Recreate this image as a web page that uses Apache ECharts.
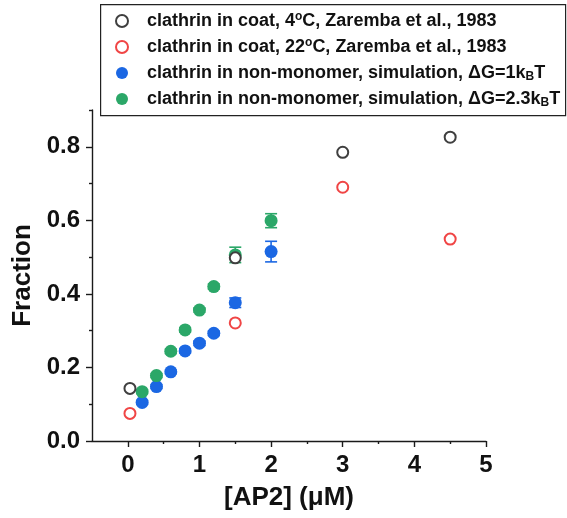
<!DOCTYPE html>
<html>
<head>
<meta charset="utf-8">
<script src="https://cdn.jsdelivr.net/npm/echarts@6/dist/echarts.min.js"></script>
<style>
  html, body { margin: 0; padding: 0; background: #fff; }
  #chart { width: 567px; height: 518px; }
</style>
</head>
<body>
<div id="chart"></div>
<script>
// Experimental coat fractions (Zaremba et al., 1983)
const coat4C_x = [0.03, 1.5, 3.0, 4.5];
const coat4C_y = [0.143, 0.498, 0.785, 0.826];
const coat22C_x = [0.03, 1.5, 3.0, 4.5];
const coat22C_y = [0.075, 0.321, 0.690, 0.549];

// Simulated non-monomer fractions
const simAP2 = [0.2, 0.4, 0.6, 0.8, 1.0, 1.2, 1.5, 2.0];
const sim1kT = [0.105, 0.148, 0.188, 0.245, 0.266, 0.293, 0.376, 0.515];
const sim1kT_err = [0.005, 0.005, 0.005, 0.006, 0.006, 0.006, 0.013, 0.028];
const sim23kT = [0.134, 0.178, 0.244, 0.302, 0.356, 0.420, 0.506, 0.599];
const sim23kT_err = [0.005, 0.005, 0.006, 0.006, 0.006, 0.007, 0.021, 0.019];

// Axis ticks
const xMajorTicks = [0, 1, 2, 3, 4, 5];
const xMinorTicks = [0.5, 1.5, 2.5, 3.5, 4.5];
const yMajorTicks = [0, 0.2, 0.4, 0.6, 0.8];
const yMinorTicks = [0.1, 0.3, 0.5, 0.7, 0.9];

const FONT = '"Liberation Sans", Arial, sans-serif';
const AXIS_COLOR = '#1a1a1a';
const BLUE = '#1b67e3';
const GREEN = '#2ba768';
const RED = '#f04545';
const GREY = '#3f3f3f';

const names = ['coat4C', 'coat22C', 'sim1kT', 'sim23kT'];
const legendText = {
  coat4C: '{f|clathrin in coat, 4}{sup|o}{t|C, Zaremba et al., 1983}',
  coat22C: '{f|clathrin in coat, 22}{sup|o}{t|C, Zaremba et al., 1983}',
  sim1kT: '{f|clathrin in non-monomer, simulation, \u0394G=1k}{sub|B}{t|T}',
  sim23kT: '{f|clathrin in non-monomer, simulation, \u0394G=2.3k}{sub|B}{t|T}'
};

function zip(xs, ys) { return xs.map((x, i) => [x, ys[i]]); }
function zipErr(xs, ys, es) { return xs.map((x, i) => [x, ys[i] - es[i], ys[i] + es[i]]); }

function errorBars(color) {
  return function (params, api) {
    const x = api.value(0);
    const lo = api.coord([x, api.value(1)]);
    const hi = api.coord([x, api.value(2)]);
    const half = 6;
    const style = { stroke: color, lineWidth: 1.6 };
    return {
      type: 'group',
      children: [
        { type: 'line', shape: { x1: lo[0], y1: lo[1], x2: hi[0], y2: hi[1] }, style },
        { type: 'line', shape: { x1: lo[0] - half, y1: lo[1], x2: lo[0] + half, y2: lo[1] }, style },
        { type: 'line', shape: { x1: hi[0] - half, y1: hi[1], x2: hi[0] + half, y2: hi[1] }, style }
      ]
    };
  };
}

const tickStyle = { color: AXIS_COLOR, width: 1.4 };
const labelFont = { fontFamily: FONT, fontWeight: 'bold', fontSize: 24, color: '#111' };
const titleFont = { fontFamily: FONT, fontWeight: 'bold', fontSize: 26, color: '#111' };

const chart = echarts.init(document.getElementById('chart'), null, { renderer: 'canvas' });
chart.setOption({
  animation: false,
  backgroundColor: '#fff',
  grid: { left: 92, right: 81, top: 110, bottom: 77 },
  xAxis: [
    {
      type: 'value', min: -0.5, max: 5, interval: 0.5,
      name: '[AP2] (\u03bcM)', nameLocation: 'middle', nameGap: 44,
      nameTextStyle: titleFont,
      axisLine: { show: true, onZero: false, lineStyle: tickStyle },
      splitLine: { show: false },
      axisTick: { show: true, length: 6, customValues: xMajorTicks, lineStyle: tickStyle },
      axisLabel: Object.assign({ customValues: xMajorTicks, margin: 12, formatter: v => String(Math.round(v)) }, labelFont)
    },
    {
      type: 'value', min: -0.5, max: 5, interval: 0.5, position: 'bottom',
      axisLine: { show: false, onZero: false },
      splitLine: { show: false },
      axisTick: { show: true, length: 3, customValues: xMinorTicks, lineStyle: tickStyle },
      axisLabel: { show: false }
    }
  ],
  yAxis: [
    {
      type: 'value', min: 0, max: 0.9, interval: 0.1,
      name: 'Fraction', nameLocation: 'middle', nameGap: 56,
      nameTextStyle: titleFont,
      axisLine: { show: true, onZero: false, lineStyle: tickStyle },
      splitLine: { show: false },
      axisTick: { show: true, length: 6, customValues: yMajorTicks, lineStyle: tickStyle },
      axisLabel: Object.assign({ customValues: yMajorTicks, margin: 12, formatter: v => v.toFixed(1) }, labelFont)
    },
    {
      type: 'value', min: 0, max: 0.9, interval: 0.1, position: 'left',
      axisLine: { show: false, onZero: false },
      splitLine: { show: false },
      axisTick: { show: true, length: 3, customValues: yMinorTicks, lineStyle: tickStyle },
      axisLabel: { show: false }
    }
  ],
  graphic: [{
    type: 'rect', left: 100, top: 4, z: 90,
    shape: { width: 465, height: 111 },
    style: { fill: '#fff', stroke: '#222', lineWidth: 1.2 }
  }],
  legend: {
    z: 100,
    orient: 'vertical', left: 110, top: 6, itemGap: 6,
    itemWidth: 28, itemHeight: 12,
    data: names,
    formatter: n => legendText[n],
    textStyle: {
      fontFamily: FONT, fontWeight: 'bold', fontSize: 18, color: '#111',
      rich: {
        f: { fontFamily: FONT, fontWeight: 'bold', fontSize: 18, color: '#111', lineHeight: 20, padding: [0, 0, 0, 6] },
        t: { fontFamily: FONT, fontWeight: 'bold', fontSize: 18, color: '#111', lineHeight: 20 },
        sup: { fontFamily: FONT, fontWeight: 'bold', fontSize: 12, color: '#111', verticalAlign: 'top', lineHeight: 12, padding: [0, 0, 8, 0] },
        sub: { fontFamily: FONT, fontWeight: 'bold', fontSize: 12, color: '#111', verticalAlign: 'bottom', lineHeight: 12, padding: [8, 0, 0, 0] }
      }
    }
  },
  series: [
    { type: 'custom', name: 'sim1kT_err', renderItem: errorBars(BLUE), data: zipErr(simAP2, sim1kT, sim1kT_err), z: 2, silent: true },
    { type: 'custom', name: 'sim23kT_err', renderItem: errorBars(GREEN), data: zipErr(simAP2, sim23kT, sim23kT_err), z: 2, silent: true },
    { type: 'scatter', name: 'sim1kT', symbol: 'circle', symbolSize: 13, itemStyle: { color: BLUE, opacity: 1 }, data: zip(simAP2, sim1kT), z: 3 },
    { type: 'scatter', name: 'sim23kT', symbol: 'circle', symbolSize: 13, itemStyle: { color: GREEN, opacity: 1 }, data: zip(simAP2, sim23kT), z: 3 },
    { type: 'scatter', name: 'coat4C', symbol: 'emptyCircle', symbolSize: 11, itemStyle: { color: GREY, borderColor: GREY, borderWidth: 1.8, opacity: 1 }, data: zip(coat4C_x, coat4C_y), z: 4 },
    { type: 'scatter', name: 'coat22C', symbol: 'emptyCircle', symbolSize: 11, itemStyle: { color: RED, borderColor: RED, borderWidth: 1.6, opacity: 1 }, data: zip(coat22C_x, coat22C_y), z: 4 }
  ]
});
</script>
</body>
</html>
